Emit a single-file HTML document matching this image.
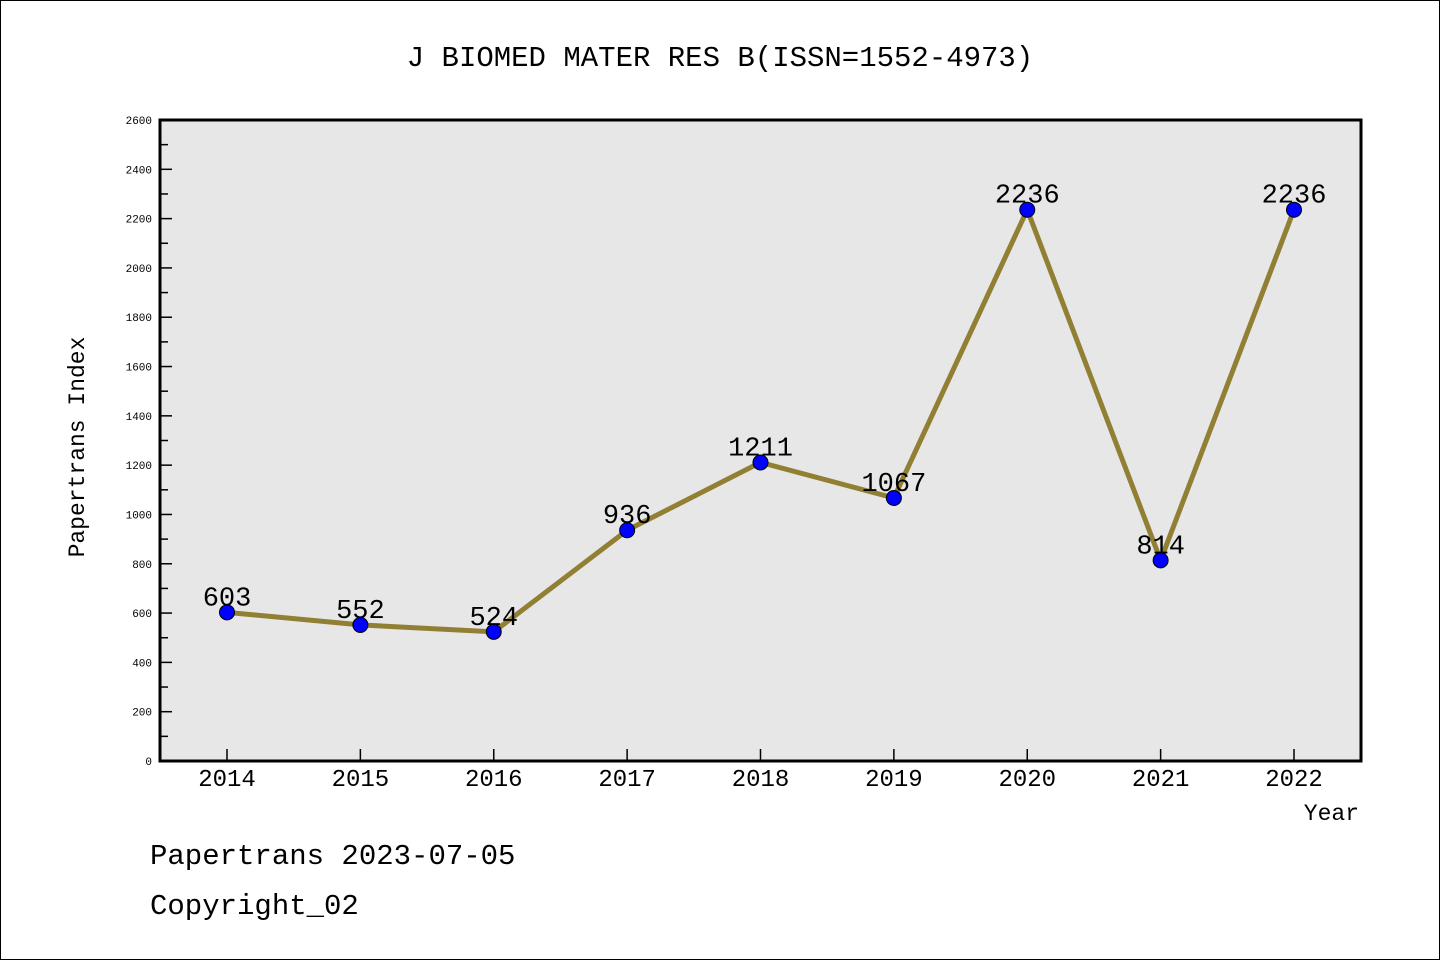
<!DOCTYPE html>
<html><head><meta charset="utf-8"><style>
html,body{margin:0;padding:0;background:#fff}
svg{display:block}
text{font-family:"WenQuanYi Zen Hei","Liberation Mono",monospace}
</style></head><body>
<svg id="chart" width="1440" height="960" xmlns="http://www.w3.org/2000/svg">
<rect x="0.5" y="0.5" width="1439" height="959" fill="#fff" stroke="#000"/>
<text x="720" y="66" font-size="29" text-anchor="middle">J BIOMED MATER RES B(ISSN=1552-4973)</text>
<rect x="160" y="120" width="1201" height="641" fill="#e7e7e7"/>
<g id="yaxis"></g>
<g id="xaxis"></g>
<g id="series"></g>
<path d="M160,120H1361V761H160Z" fill="none" stroke="#000" stroke-width="3"/>
<text transform="translate(84,447) rotate(-90)" font-size="23" text-anchor="middle">Papertrans Index</text>
<text x="1359" y="820" font-size="23" text-anchor="end">Year</text>
<text x="150" y="864" font-size="29">Papertrans 2023-07-05</text>
<text x="150" y="914" font-size="29">Copyright_02</text>
</svg>
<script>
const categories=["2014","2015","2016","2017","2018","2019","2020","2021","2022"];
const values=[603,552,524,936,1211,1067,2236,814,2236];
const yTicks=[0,200,400,600,800,1000,1200,1400,1600,1800,2000,2200,2400,2600];
const NS="http://www.w3.org/2000/svg";
const y0=761,y1=120,yMax=2600;
function ys(v){return y0-(v/yMax)*(y0-y1);}
function xs(i){return 227+i*(1294-227)/(categories.length-1);}
function mk(t,a,p){const e=document.createElementNS(NS,t);for(const k in a)e.setAttribute(k,a[k]);p.appendChild(e);return e;}
const ya=document.getElementById('yaxis');
yTicks.forEach((v,i)=>{
 const t=mk('line',{x1:160,x2:172,y1:ys(v),y2:ys(v),stroke:'#000','stroke-width':1.5},ya);
 
 
 const l=mk('text',{x:152,y:ys(v)+4,'font-size':11,'text-anchor':'end'},ya);
 l.textContent=v;
 
 
 if(i<yTicks.length-1){
  const m=mk('line',{x1:160,x2:168,y1:ys(v+100),y2:ys(v+100),stroke:'#000','stroke-width':1.5},ya);
  
  
 }
});
const xa=document.getElementById('xaxis');
categories.forEach((c,i)=>{
 const t=mk('line',{x1:xs(i),x2:xs(i),y1:761,y2:749,stroke:'#000','stroke-width':1.5},xa);
 
 
 const l=mk('text',{x:xs(i),y:786,'font-size':24,'text-anchor':'middle'},xa);
 l.textContent=c;
 
 
});
const s=document.getElementById('series');
const pl=mk('polyline',{points:values.map((v,i)=>xs(i)+','+ys(v)).join(' '),fill:'none',stroke:'#917f33','stroke-width':5,'stroke-linejoin':'miter'},s);


values.forEach((v,i)=>{
 const c=mk('circle',{cx:xs(i),cy:ys(v),r:7.5,fill:'#0000ff',stroke:'#000','stroke-width':1},s);
 
 
 const l=mk('text',{x:xs(i),y:ys(v)-7,'font-size':27,'text-anchor':'middle'},s);
 l.textContent=v;
 
 
});
</script>
</body></html>
